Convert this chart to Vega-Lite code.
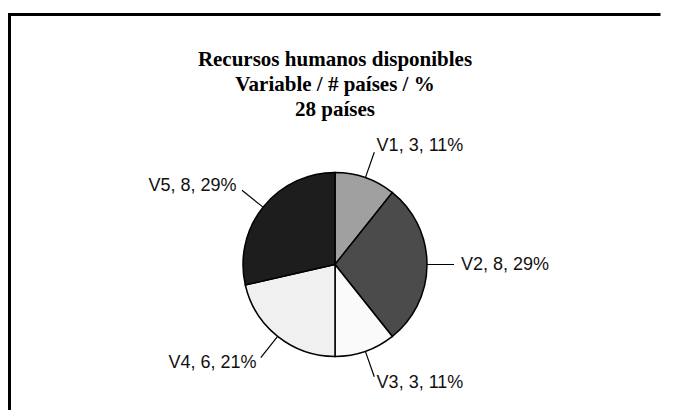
{
  "$schema": "https://vega.github.io/schema/vega-lite/v6.json",
  "autosize": "none",
  "padding": {"left": 9.5, "top": 14.5, "right": 0, "bottom": 0},
  "width": 651,
  "height": 500,
  "background": "white",
  "view": {"stroke": "#000000", "strokeWidth": 3, "strokeDash": [651, 1151, 500, 10]},
  "config": {
    "view": {"stroke": "#000000", "strokeWidth": 3}
  },
  "title": {
    "text": ["Recursos humanos disponibles", "Variable / # países / %", "28 países"],
    "font": "Liberation Serif",
    "fontSize": 21,
    "fontWeight": "bold",
    "lineHeight": 25,
    "color": "#000000",
    "anchor": "middle",
    "frame": "group",
    "offset": 0,
    "dy": 105.5
  },
  "data": {
    "values": [
      {"variable": "V1", "n": 3, "label": "V1, 3, 11%"},
      {"variable": "V2", "n": 8, "label": "V2, 8, 29%"},
      {"variable": "V3", "n": 3, "label": "V3, 3, 11%"},
      {"variable": "V4", "n": 6, "label": "V4, 6, 21%"},
      {"variable": "V5", "n": 8, "label": "V5, 8, 29%"}
    ]
  },
  "layer": [
    {
      "transform": [
        {"stack": "n", "groupby": [], "sort": [{"field": "variable", "order": "ascending"}], "as": ["a0", "a1"]},
        {"fold": ["a0", "a1"], "as": ["edge", "angle"]},
        {"aggregate": [{"op": "mean", "field": "angle", "as": "mid"}], "groupby": ["variable"]}
      ],
      "mark": {"type": "arc", "innerRadius": 92, "outerRadius": 119, "stroke": "#000000", "strokeWidth": 1.2, "fill": null},
      "encoding": {
        "theta": {"field": "mid", "type": "quantitative", "stack": null},
        "theta2": {"field": "mid"}
      }
    },
    {
      "mark": {"type": "arc", "outerRadius": 92, "stroke": "#000000", "strokeWidth": 1.5},
      "encoding": {
        "theta": {"field": "n", "type": "quantitative", "stack": true},
        "order": {"field": "variable", "type": "ordinal", "sort": "ascending"},
        "color": {
          "field": "variable",
          "type": "nominal",
          "scale": {"domain": ["V1", "V2", "V3", "V4", "V5"], "range": ["#a0a0a0", "#4b4b4b", "#fafafa", "#f0f0f0", "#1d1d1d"]},
          "legend": null
        }
      }
    },
    {
      "mark": {
        "type": "text",
        "radius": 126,
        "font": "Liberation Sans",
        "fontSize": 18,
        "color": "#111111",
        "baseline": "middle",
        "align": {"expr": "datum.variable == 'V4' || datum.variable == 'V5' ? 'right' : 'left'"}
      },
      "encoding": {
        "theta": {"field": "n", "type": "quantitative", "stack": true},
        "order": {"field": "variable", "type": "ordinal", "sort": "ascending"},
        "text": {"field": "label"}
      }
    }
  ]
}
